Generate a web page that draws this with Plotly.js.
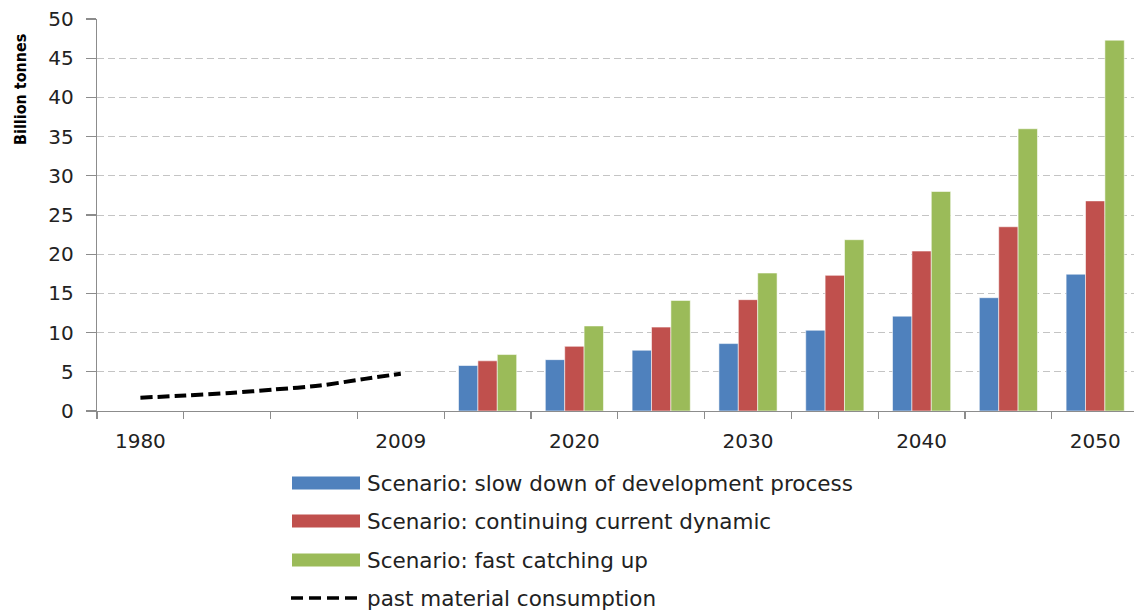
<!DOCTYPE html>
<html>
<head>
<meta charset="utf-8">
<script src="https://cdn.plot.ly/plotly-3.0.1.min.js"></script>
<style>html,body{margin:0;padding:0;background:#fff;}#chart{width:1134px;height:610px;}</style>
</head>
<body>
<div id="chart"></div>
<script>
// ---- data ----
const slots = ['1980', '', '', '2009', '2015', '2020', '2025', '2030', '2035', '2040', '2045', '2050'];
const shownLabels = ['1980', '2009', '2020', '2030', '2040', '2050'];
const scenarioYears = ['2015', '2020', '2025', '2030', '2035', '2040', '2045', '2050'];
const slowDown   = [5.8, 6.55, 7.75, 8.6, 10.3, 12.1, 14.45, 17.45];
const continuing = [6.4, 8.25, 10.7, 14.2, 17.3, 20.4, 23.5, 26.8];
const fastCatch  = [7.2, 10.85, 14.1, 17.6, 21.85, 28.0, 36.0, 47.3];
const pastYears  = [1980, 1985, 1990, 1995, 2000, 2005, 2009];
const pastValues = [1.7, 1.97, 2.3, 2.75, 3.25, 4.1, 4.75];
const seriesNames = [
  'Scenario: slow down of development process',
  'Scenario: continuing current dynamic',
  'Scenario: fast catching up',
  'past material consumption'
];
const colors = ['#4F81BD', '#C0504D', '#9BBB59', '#000000'];

// ---- geometry ----
const W = 1134, H = 610, L = 97, T = 19, B = 199, R = 0;
const PW = W - L - R, PH = H - T - B;
const catPx = 86.8;
const xRange = [-0.5, -0.5 + PW / catPx];
function pxX(p) { return (p - L) / PW; }
function pxY(p) { return (H - B - p) / PH; }

// secondary (year) axis aligned so that 1980 sits on slot '1980' and 2009 on slot '2009'
const i0 = slots.indexOf('1980'), i1 = slots.indexOf('2009');
const yps = (2009 - 1980) / (i1 - i0);
const x2Range = [1980 + (xRange[0] - i0) * yps, 1980 + (xRange[1] - i0) * yps];

const barX = scenarioYears.map(y => slots.indexOf(y));
const tickFont = {family: 'DejaVu Sans, Verdana, sans-serif', size: 20, color: '#222'};
const barLine = {color: 'rgba(255,255,255,0.55)', width: 1};

const traces = [
  {type: 'bar', x: barX, y: slowDown, name: seriesNames[0], marker: {color: colors[0], line: barLine}, showlegend: false},
  {type: 'bar', x: barX, y: continuing, name: seriesNames[1], marker: {color: colors[1], line: barLine}, showlegend: false},
  {type: 'bar', x: barX, y: fastCatch, name: seriesNames[2], marker: {color: colors[2], line: barLine}, showlegend: false},
  {type: 'scatter', mode: 'lines', x: pastYears, y: pastValues, xaxis: 'x2', name: seriesNames[3],
   line: {color: '#000', width: 4, dash: '12px,5px', shape: 'spline', smoothing: 0.8}, showlegend: false}
];

// custom legend (wide swatches like the original)
const rowsY = [483, 521, 560, 598];
const shapes = [];
const annotations = [];
for (let i = 0; i < 3; i++) {
  shapes.push({type: 'rect', xref: 'paper', yref: 'paper',
    x0: pxX(292), x1: pxX(360), y0: pxY(rowsY[i] - 6.5), y1: pxY(rowsY[i] + 6.5),
    fillcolor: colors[i], line: {width: 0}});
}
shapes.push({type: 'line', xref: 'paper', yref: 'paper',
  x0: pxX(291), x1: pxX(362), y0: pxY(rowsY[3]), y1: pxY(rowsY[3]),
  line: {color: '#000', width: 3.5, dash: '12px,6px'}});
for (let i = 0; i < 4; i++) {
  annotations.push({xref: 'paper', yref: 'paper', x: pxX(365), y: pxY(rowsY[i]),
    xanchor: 'left', yanchor: 'middle', showarrow: false, text: seriesNames[i],
    font: {family: 'DejaVu Sans, Verdana, sans-serif', size: 21.5, color: '#222'}});
}
annotations.push({xref: 'paper', yref: 'paper', x: pxX(20), y: pxY(90),
  xanchor: 'center', yanchor: 'middle', showarrow: false, textangle: -90,
  text: 'Billion tonnes',
  font: {family: 'Liberation Sans Narrow, DejaVu Sans Condensed, Arial Narrow, sans-serif', size: 16, color: '#000', weight: 'bold'}});

const layout = {
  width: W, height: H,
  margin: {l: L, r: R, t: T, b: B, pad: 0},
  paper_bgcolor: '#fff', plot_bgcolor: '#fff',
  showlegend: false,
  barmode: 'group', bargap: 0.33, bargroupgap: 0,
  xaxis: {
    type: 'linear', range: xRange, fixedrange: true,
    tickmode: 'array', tickvals: shownLabels.map(l => slots.indexOf(l)), ticktext: shownLabels,
    ticks: '', tickfont: tickFont, ticklabelstandoff: 12,
    showgrid: false, zeroline: false,
    showline: true, linecolor: '#8c8c8c', linewidth: 1.2,
    minor: {tick0: -0.5, dtick: 1, ticks: 'outside', ticklen: 7, tickcolor: '#8c8c8c', tickwidth: 1.2, showgrid: false}
  },
  xaxis2: {type: 'linear', overlaying: 'x', range: x2Range, visible: false, fixedrange: true},
  yaxis: {
    range: [0, 50], dtick: 5, tick0: 0, fixedrange: true,
    ticks: 'outside', ticklen: 10, tickcolor: '#8c8c8c', tickwidth: 1.2,
    tickfont: tickFont, ticklabelstandoff: 8,
    showgrid: true, gridcolor: '#c4c4c4', gridwidth: 1, griddash: '7px,4px',
    zeroline: false, showline: true, linecolor: '#8c8c8c', linewidth: 1.2
  },
  shapes: shapes,
  annotations: annotations
};

Plotly.newPlot('chart', traces, layout, {displayModeBar: false, staticPlot: true});
</script>
</body>
</html>
